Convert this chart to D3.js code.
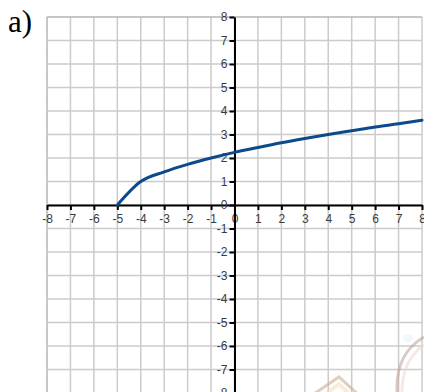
<!DOCTYPE html>
<html>
<head>
<meta charset="utf-8">
<script src="https://cdn.jsdelivr.net/npm/d3@7"></script>
<style>
  html, body { margin: 0; padding: 0; background: #fff; }
  svg { display: block; }
</style>
</head>
<body>
<div id="chart"></div>
<script>
// values
const xValues = [-5, -4, -3, -2, -1, 0, 1, 2, 3, 4, 5, 6, 7, 8];
const yValues = [0, 1, 1.41, 1.73, 2, 2.24, 2.45, 2.65, 2.83, 3, 3.16, 3.32, 3.46, 3.61];
const xTicks = [-8, -7, -6, -5, -4, -3, -2, -1, 0, 1, 2, 3, 4, 5, 6, 7, 8];
const yTicks = [-8, -7, -6, -5, -4, -3, -2, -1, 0, 1, 2, 3, 4, 5, 6, 7, 8];
const panelLabel = "a)";

const width = 424;
const height = 392;

const svg = d3.select('#chart')
    .append('svg')
    .attr('width', width)
    .attr('height', height);

const x = d3.scaleLinear().domain([-8, 8]).range([47, 422]);
const y = d3.scaleLinear().domain([-8, 8]).range([393, 17]);

// grid
const grid = svg.append('g');
grid.selectAll('line.v')
    .data(xTicks)
    .enter().append('line')
    .attr('x1', d => x(d)).attr('x2', d => x(d))
    .attr('y1', y(8)).attr('y2', y(-8))
    .attr('stroke', d => d === -8 ? '#b4b4b4' : '#cbcbcb')
    .attr('stroke-width', 1.5);
grid.selectAll('line.h')
    .data(yTicks)
    .enter().append('line')
    .attr('y1', d => y(d)).attr('y2', d => y(d))
    .attr('x1', x(-8)).attr('x2', x(8))
    .attr('stroke', d => d === 8 ? '#b4b4b4' : '#cbcbcb')
    .attr('stroke-width', 1.5);

// faint watermark in the corner
const wm = svg.append('g').attr('fill', 'none').attr('opacity', 0.55);
wm.append('path')
    .attr('d', 'M305,400 L339,377 L362,398')
    .attr('stroke', '#c9a78a').attr('stroke-width', 3);
wm.append('path')
    .attr('d', 'M318,400 L339,384 L356,400')
    .attr('stroke', '#f6dcc0').attr('stroke-width', 4);
wm.append('path')
    .attr('d', 'M397,392 C396,365 405,348 424,337')
    .attr('stroke', '#bf9f94').attr('stroke-width', 3);
wm.append('path')
    .attr('d', 'M402,392 C402,370 410,355 424,345')
    .attr('stroke', '#f4d4d4').attr('stroke-width', 3);
wm.append('ellipse')
    .attr('cx', 408).attr('cy', 338).attr('rx', 5).attr('ry', 4)
    .attr('fill', '#d8e8f4').attr('opacity', 0.6);

// axes (plain hyphen for negatives, as in the original)
const fmt = d => String(d);
const xAxis = d3.axisBottom(x).tickValues(xTicks).tickFormat(fmt).tickSize(5).tickSizeOuter(0).tickPadding(4);
const yAxis = d3.axisLeft(y).tickValues(yTicks).tickFormat(fmt).tickSize(5).tickSizeOuter(0).tickPadding(2);

const gx = svg.append('g')
    .attr('transform', `translate(0,${y(0)})`)
    .call(xAxis);
const gy = svg.append('g')
    .attr('transform', `translate(${x(0)},0)`)
    .call(yAxis);

[gx, gy].forEach(g => {
    g.select('.domain').attr('stroke', '#000').attr('stroke-width', 2);
    g.selectAll('.tick line').attr('stroke', '#000').attr('stroke-width', 2);
    g.selectAll('.tick text')
        .attr('fill', '#3a3a3a')
        .style('font-family', '"Liberation Sans", Arial, sans-serif')
        .style('font-size', '12px');
});

// curve
const points = xValues.map((d, i) => [d, yValues[i]]);
const line = d3.line()
    .x(d => x(d[0]))
    .y(d => y(d[1]))
    .curve(d3.curveMonotoneX);

svg.append('path')
    .datum(points)
    .attr('d', line)
    .attr('fill', 'none')
    .attr('stroke', '#0b4a8b')
    .attr('stroke-width', 3)
    .attr('stroke-linecap', 'round');

// panel label
svg.append('text')
    .attr('x', 8)
    .attr('y', 32)
    .text(panelLabel)
    .style('font-family', '"Liberation Serif", "Times New Roman", serif')
    .style('font-size', '31px')
    .attr('fill', '#000');
</script>
</body>
</html>
